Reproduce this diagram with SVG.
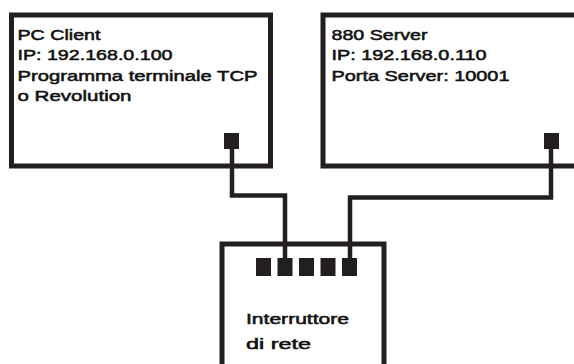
<svg xmlns="http://www.w3.org/2000/svg" width="574" height="364" viewBox="0 0 574 364">
<style>
.box{fill:#fff;stroke:#231f20;stroke-width:5}
.port{fill:#231f20}
.wire{fill:none;stroke:#231f20;stroke-width:4.5;stroke-linejoin:miter}
text{font-family:"Liberation Sans",Arial,sans-serif;font-size:15.5px;fill:#111;stroke:#111;stroke-width:0.55px}
</style>
<rect width="574" height="364" fill="#fff"/>
<g id="pc-client">
<rect class="box" x="11.5" y="15" width="259" height="151"/>
<rect class="port" x="224" y="133" width="15" height="16"/>
<text x="17.5" y="39.5" textLength="83" lengthAdjust="spacingAndGlyphs">PC Client</text>
<text x="17.5" y="60" textLength="155" lengthAdjust="spacingAndGlyphs">IP: 192.168.0.100</text>
<text x="17.5" y="80.5" textLength="240" lengthAdjust="spacingAndGlyphs">Programma terminale TCP</text>
<text x="17.5" y="101" textLength="114" lengthAdjust="spacingAndGlyphs">o Revolution</text>
</g>
<g id="server">
<rect class="box" x="323" y="15" width="260" height="151"/>
<rect class="port" x="544" y="133" width="15" height="16"/>
<text x="331.5" y="39.5" textLength="96" lengthAdjust="spacingAndGlyphs">880 Server</text>
<text x="331.5" y="60" textLength="155" lengthAdjust="spacingAndGlyphs">IP: 192.168.0.110</text>
<text x="331.5" y="80.5" textLength="178" lengthAdjust="spacingAndGlyphs">Porta Server: 10001</text>
</g>
<g id="switch">
<rect class="box" x="222" y="244" width="162" height="130"/>
<rect class="port" x="256" y="258" width="15" height="18"/>
<rect class="port" x="277.5" y="258" width="15" height="18"/>
<rect class="port" x="299" y="258" width="15" height="18"/>
<rect class="port" x="320.5" y="258" width="15" height="18"/>
<rect class="port" x="342" y="258" width="15" height="18"/>
<text x="246" y="324" textLength="103" lengthAdjust="spacingAndGlyphs">Interruttore</text>
<text x="246" y="348.5" textLength="65" lengthAdjust="spacingAndGlyphs">di rete</text>
</g>
<g id="connectors">
<path class="wire" d="M232,148 V195.5 H285 V260"/>
<path class="wire" d="M551,148 V197.5 H350 V260"/>
</g>
</svg>
